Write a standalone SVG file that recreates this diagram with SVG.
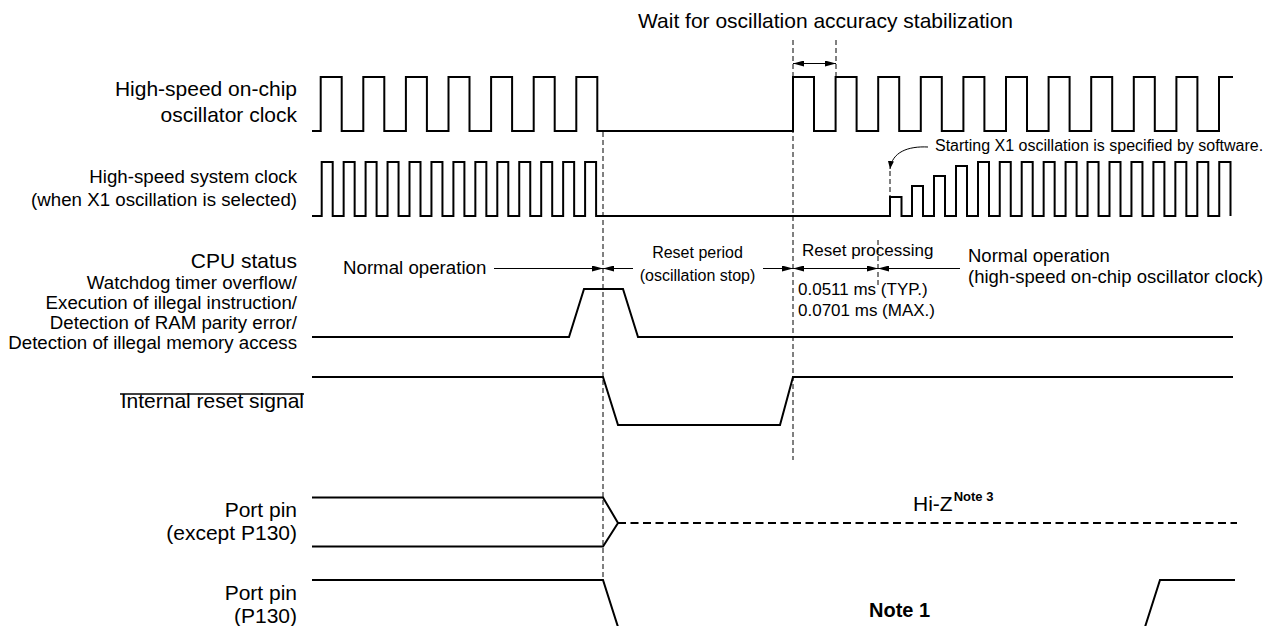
<svg xmlns="http://www.w3.org/2000/svg" width="1267" height="626" viewBox="0 0 1267 626">
<style>
text{font-family:"Liberation Sans",Arial,sans-serif;fill:#000}
.lbl{font-size:21px}
.lbs{font-size:18.7px}
.end{text-anchor:end}
.sig{fill:none;stroke:#000;stroke-width:2;stroke-linejoin:miter}
.dash{fill:none;stroke:#000;stroke-width:1;stroke-dasharray:5 3}
.hiz{fill:none;stroke:#000;stroke-width:2;stroke-dasharray:8 4.5}
.arr{fill:none;stroke:#000;stroke-width:1}
</style>
<defs>
<marker id="ah" viewBox="0 0 11 6" refX="11" refY="3" markerWidth="11" markerHeight="6" markerUnits="userSpaceOnUse" orient="auto-start-reverse">
<path d="M0,0 L11,3 L0,6 z" fill="#000"/>
</marker>
<marker id="ahs" viewBox="0 0 8 6" refX="8" refY="3" markerWidth="8" markerHeight="6" markerUnits="userSpaceOnUse" orient="auto">
<path d="M0,0 L8,3 L0,6 z" fill="#000"/>
</marker>
</defs>
<rect width="1267" height="626" fill="#fff"/>

<text id="title" class="lbl" x="638" y="28">Wait for oscillation accuracy stabilization</text>

<g id="osc-clock">
<text class="lbl end" x="297" y="96">High-speed on-chip</text>
<text class="lbl end" x="297" y="121.5">oscillator clock</text>
<path class="sig" d="M312,131 H320.7 V77 H341.7 V131 H363.3 V77 H384.3 V131 H405.9 V77 H426.9 V131 H448.5 V77 H469.5 V131 H491.1 V77 H512.1 V131 H533.7 V77 H554.7 V131 H576.3 V77 H597.3 V131 H793 V77 H814 V131 H835.6 V77 H856.6 V131 H878.2 V77 H899.2 V131 H920.8 V77 H941.8 V131 H963.4 V77 H984.4 V131 H1006 V77 H1027 V131 H1048.6 V77 H1069.6 V131 H1091.2 V77 H1112.2 V131 H1133.8 V77 H1154.8 V131 H1176.4 V77 H1197.4 V131 H1219 V77 H1233"/>
</g>

<g id="sys-clock">
<text class="lbs end" x="297" y="183">High-speed system clock</text>
<text class="lbs end" x="297" y="206">(when X1 oscillation is selected)</text>
<path class="sig" d="M312,216 H321.7 V162 H332.7 V216 H343.65 V162 H354.65 V216 H365.6 V162 H376.6 V216 H387.55 V162 H398.55 V216 H409.5 V162 H420.5 V216 H431.45 V162 H442.45 V216 H453.4 V162 H464.4 V216 H475.35 V162 H486.35 V216 H497.3 V162 H508.3 V216 H519.25 V162 H530.25 V216 H541.2 V162 H552.2 V216 H563.15 V162 H574.15 V216 H585.1 V162 H596.1 V216 H890 V197 H901.5 V216 H912 V186 H923 V216 H934 V176 H945 V216 H956 V166 H967 V216 H978 V162 H989 V216 H999.75 V162 H1010.75 V216 H1021.7 V162 H1032.7 V216 H1043.65 V162 H1054.65 V216 H1065.6 V162 H1076.6 V216 H1087.55 V162 H1098.55 V216 H1109.5 V162 H1120.5 V216 H1131.45 V162 H1142.45 V216 H1153.4 V162 H1164.4 V216 H1175.35 V162 H1186.35 V216 H1197.3 V162 H1208.3 V216 H1219.25 V162 H1230.5 V216"/>
<text x="935" y="151" style="font-size:16px">Starting X1 oscillation is specified by software.</text>
</g>

<g id="cpu-status">
<text class="lbl end" x="297" y="268">CPU status</text>
<text class="lbs" x="343" y="273.5">Normal operation</text>
<text x="697.5" y="257.5" style="font-size:16px;text-anchor:middle">Reset period</text>
<text x="697.5" y="281" style="font-size:16px;text-anchor:middle">(oscillation stop)</text>
<text x="802" y="256" style="font-size:17px">Reset processing</text>
<text x="798" y="295" style="font-size:17px">0.0511 ms (TYP.)</text>
<text x="798" y="316" style="font-size:17px">0.0701 ms (MAX.)</text>
<text x="968" y="262" style="font-size:18.5px">Normal operation</text>
<text x="968" y="282.5" style="font-size:18.5px">(high-speed on-chip oscillator clock)</text>
</g>

<g id="watchdog">
<text class="lbs end" x="297" y="289">Watchdog timer overflow/</text>
<text class="lbs end" x="297" y="309">Execution of illegal instruction/</text>
<text class="lbs end" x="297" y="329">Detection of RAM parity error/</text>
<text class="lbs end" x="297" y="349">Detection of illegal memory access</text>
<path class="sig" d="M312,337 H569 L584,289 H623 L638,337 H1233"/>
</g>

<g id="internal-reset">
<text class="lbl end" x="304" y="408">Internal reset signal</text>
<line x1="120" y1="394" x2="304" y2="394" stroke="#000" stroke-width="1.5"/>
<path class="sig" d="M312,377 H603 L618,425 H780 L793,377 H1233"/>
</g>

<g id="port-pin">
<text class="lbl end" x="297" y="517">Port pin</text>
<text class="lbl end" x="297" y="540">(except P130)</text>
<path class="sig" d="M312,497.5 H603 L618,523 L603,546.5 H312"/>
<line class="hiz" x1="618" y1="523" x2="1237" y2="523"/>
<text class="lbl" x="913" y="511">Hi-Z<tspan dx="1" dy="-10" style="font-size:13px;font-weight:bold">Note 3</tspan></text>
</g>

<g id="port-p130">
<text class="lbl end" x="297" y="600">Port pin</text>
<text class="lbl end" x="297" y="623">(P130)</text>
<path class="sig" d="M312,580 H603 L618,627"/>
<path class="sig" d="M1145,627 L1160,580 H1235"/>
<text x="869" y="617" style="font-size:20px;font-weight:bold">Note 1</text>
</g>

<g id="connectors">
<line class="dash" x1="603" y1="132" x2="603" y2="580"/>
<line class="dash" x1="793" y1="40" x2="793" y2="460"/>
<line class="dash" x1="836" y1="40" x2="836" y2="77"/>
<line class="dash" x1="878" y1="240" x2="878" y2="286"/>
<line class="dash" x1="890" y1="171" x2="890" y2="197"/>
<line class="arr" x1="793" y1="63.5" x2="836" y2="63.5" marker-start="url(#ah)" marker-end="url(#ah)"/>
<path class="arr" d="M928,147 C908,146 892,152 890,169" marker-end="url(#ahs)"/>
<line class="arr" x1="494" y1="268.5" x2="603" y2="268.5" marker-end="url(#ah)"/>
<line class="arr" x1="633" y1="268.5" x2="603" y2="268.5" marker-end="url(#ah)"/>
<line class="arr" x1="763" y1="268.5" x2="793" y2="268.5" marker-end="url(#ah)"/>
<line class="arr" x1="793" y1="268.5" x2="878" y2="268.5" marker-start="url(#ah)" marker-end="url(#ah)"/>
<line class="arr" x1="960" y1="268.5" x2="878" y2="268.5" marker-end="url(#ah)"/>
</g>
</svg>
